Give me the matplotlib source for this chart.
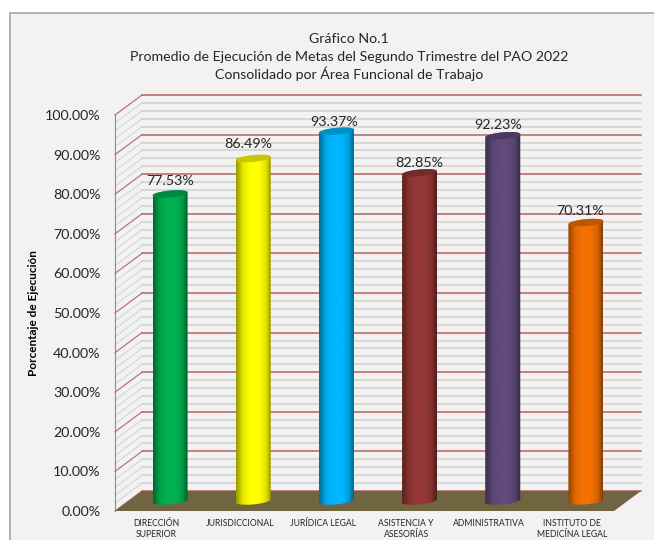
import matplotlib
matplotlib.use('Agg')
import matplotlib.pyplot as plt
from matplotlib.colors import LinearSegmentedColormap, to_rgb
from matplotlib.patches import Polygon, Rectangle
import numpy as np

plt.rcParams['font.family'] = ['Lato', 'DejaVu Sans']

# Data
title_lines = ['Gráfico No.1',
               'Promedio de Ejecución de Metas del Segundo Trimestre del PAO 2022',
               'Consolidado por Área Funcional de Trabajo']
categories = ['DIRECCIÓN\nSUPERIOR', 'JURISDICCIONAL', 'JURÍDICA LEGAL',
              'ASISTENCIA Y\nASESORÍAS', 'ADMINISTRATIVA', 'INSTITUTO DE\nMEDICÍNA LEGAL']
values = [77.53, 86.49, 93.37, 82.85, 92.23, 70.31]
colors = ['#00b050', '#ffff00', '#00b8ff', '#953735', '#604a7b', '#f47000']
y_major = [0, 10, 20, 30, 40, 50, 60, 70, 80, 90, 100]
y_minor = [v for v in range(0, 101, 2) if v % 10 != 0]

W, H = 654, 540
BG = '#f2f2f2'
TEXT = '#262626'

fig = plt.figure(figsize=(W / 100, H / 100), dpi=100, facecolor='white')
fig.patches.append(Rectangle((9.5 / W, -0.1), 1, 1 - 12.5 / H + 0.1, transform=fig.transFigure,
                             facecolor=BG, edgecolor='#a6a6a6', linewidth=1.2, zorder=-5))

# axes = front plane of the 3D box
ax = fig.add_axes([115 / W, 1 - 511 / H, 499 / W, 396 / H])
ax.patch.set_visible(False)
ax.set_xlim(-0.5, 5.5)
ax.set_ylim(0, 100)

# box depth in data units
DX = 27 / (499 / 6)
DY = 20 / 3.96
x0, x1 = -0.5, 5.5

# walls
for v in y_minor:
    ax.plot([x0, x0 + DX], [v, v + DY], color='#d8d8d8', lw=0.9, clip_on=False, zorder=1)
    ax.plot([x0 + DX, x1 + DX], [v + DY, v + DY], color='#cfcfcf', lw=1.1, clip_on=False, zorder=1)
for v in y_major:
    ax.plot([x0, x0 + DX], [v, v + DY], color='#bb7474', lw=0.9, clip_on=False, zorder=1)
    ax.plot([x0 + DX, x1 + DX], [v + DY, v + DY], color='#b56262', lw=1.1, clip_on=False, zorder=1)

# floor
ax.add_patch(Polygon([(x0, 0), (x1, 0), (x1 + DX, DY), (x0 + DX, DY)], closed=True,
                     facecolor='#6f6540', edgecolor='none', clip_on=False, zorder=2))

# cylinders
HALF_W = 17.5 / (499 / 6)
ELL_H = 3.4 / 3.96
TILT = 1.6 / 3.96
label_gap = [13, 14, 9, 10, 11, 12]
label_dx = [0, -5, -2, 0, -5, -6]


def ellipse(xc, yc, t):
    return xc + HALF_W * np.cos(t), yc + ELL_H * np.sin(t) + TILT * np.cos(t)


for i, (val, col) in enumerate(zip(values, colors)):
    xc = i + DX / 2
    base = DY / 2
    top = val + DY / 2
    rgb = np.array(to_rgb(col))
    cmap = LinearSegmentedColormap.from_list(
        'c', [(0, rgb * 0.6), (0.2, rgb * 0.92), (0.4, rgb), (0.65, rgb), (0.85, rgb * 0.88), (1, rgb * 0.55)])

    t_bot = np.linspace(np.pi, 2 * np.pi, 40)
    t_top = np.linspace(0, np.pi, 40)
    bx, by = ellipse(xc, base, t_bot)
    tx, ty = ellipse(xc, top, t_top)
    body = Polygon(np.column_stack([np.r_[bx, tx], np.r_[by, ty]]), closed=True,
                   facecolor='none', edgecolor='none', transform=ax.transData)
    ax.add_patch(body)
    img = ax.imshow(np.linspace(0, 1, 64).reshape(1, -1), cmap=cmap, aspect='auto', zorder=3,
                    extent=(xc - HALF_W, xc + HALF_W, base - 3, top + 3))
    img.set_clip_path(body)

    ex, ey = ellipse(xc, top, np.linspace(0, 2 * np.pi, 80))
    ax.add_patch(Polygon(np.column_stack([ex, ey]), closed=True, facecolor=rgb * 0.78,
                         edgecolor='none', clip_on=False, zorder=4))

    ax.annotate(f'{val:.2f}%', (xc, top), xytext=(label_dx[i] * 0.72, label_gap[i] * 0.72),
                textcoords='offset points', ha='center', va='center', fontsize=10.3,
                color=TEXT, zorder=5, annotation_clip=False)

ax.set_xlim(-0.5, 5.5)
ax.set_ylim(0, 100)

# axes and text
ax.set_xticks(range(len(categories)))
ax.set_xticklabels(categories, fontsize=6.2, color=TEXT, linespacing=1.3)
ax.set_yticks(y_major)
ax.set_yticklabels([f'{v:.2f}%' for v in y_major], fontsize=10.3, color=TEXT)
ax.tick_params(axis='x', length=0, pad=6)
ax.tick_params(axis='y', length=0, pad=10.5)
for s in ['top', 'right', 'bottom']:
    ax.spines[s].set_visible(False)
ax.spines['left'].set_color('#8c8c8c')
ax.spines['left'].set_zorder(6)

ax.set_ylabel('Porcentaje de Ejecución', fontsize=8.5, fontweight='bold', color='black')
ax.yaxis.set_label_coords(-0.152, 0.5)

# title, one baseline per line
for line, base_y in zip(title_lines, [43, 61, 79]):
    fig.text(349 / W, 1 - base_y / H, line, ha='center', va='baseline', fontsize=10.2, color=TEXT)

fig.savefig('out.png', dpi=100, facecolor='white')
